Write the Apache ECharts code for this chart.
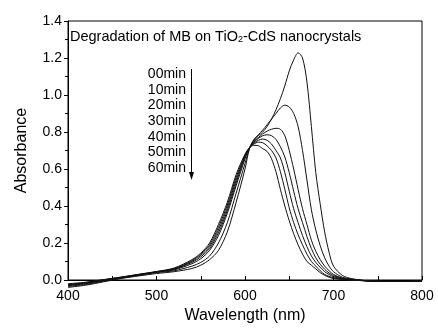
<!DOCTYPE html>
<html><head><meta charset="utf-8">
<script src="https://cdn.jsdelivr.net/npm/echarts@6/dist/echarts.min.js"></script>
<style>html,body{margin:0;padding:0;background:#fff}#c{width:438px;height:329px}</style>
</head><body><div id="c"></div>
<script>
const wavelengths = [400,420,440,460,480,500,520,540,550,560,570,580,590,600,605,610,615,620,625,630,635,640,645,650,655,660,665,670,675,680,685,690,695,700,710,720,740,760,780,800];
const seriesNames = ["00min","10min","20min","30min","40min","50min","60min"];
const a00 = [-0.04,-0.028,-0.01,0.008,0.022,0.035,0.045,0.062,0.08,0.11,0.16,0.26,0.42,0.60,0.71,0.76,0.78,0.80,0.83,0.87,0.92,0.98,1.05,1.13,1.19,1.228,1.20,1.07,0.83,0.58,0.41,0.26,0.15,0.075,0.025,0.008,-0.005,-0.008,-0.008,-0.006];
const a10 = [-0.035,-0.024,-0.007,0.01,0.025,0.04,0.05,0.075,0.095,0.13,0.20,0.31,0.47,0.63,0.71,0.755,0.785,0.81,0.84,0.87,0.90,0.93,0.945,0.935,0.90,0.83,0.70,0.54,0.38,0.27,0.185,0.12,0.075,0.045,0.015,0.005,-0.005,-0.008,-0.008,-0.006];
const a20 = [-0.03,-0.02,-0.004,0.012,0.027,0.042,0.055,0.088,0.115,0.16,0.24,0.36,0.51,0.655,0.715,0.75,0.77,0.79,0.805,0.815,0.82,0.815,0.78,0.70,0.60,0.49,0.385,0.30,0.215,0.155,0.11,0.075,0.05,0.03,0.01,0.003,-0.005,-0.008,-0.008,-0.006];
const a30 = [-0.03,-0.018,-0.002,0.013,0.028,0.043,0.058,0.095,0.125,0.17,0.255,0.375,0.525,0.665,0.715,0.745,0.765,0.78,0.785,0.78,0.76,0.72,0.665,0.58,0.48,0.385,0.31,0.235,0.17,0.12,0.085,0.058,0.038,0.024,0.008,0.002,-0.005,-0.008,-0.008,-0.006];
const a40 = [-0.025,-0.016,0.0,0.014,0.029,0.044,0.06,0.10,0.133,0.18,0.27,0.39,0.54,0.67,0.715,0.74,0.755,0.762,0.755,0.735,0.70,0.66,0.58,0.48,0.385,0.31,0.24,0.18,0.13,0.095,0.068,0.045,0.03,0.018,0.006,0.0,-0.005,-0.008,-0.008,-0.006];
const a50 = [-0.025,-0.014,0.001,0.015,0.03,0.045,0.062,0.105,0.14,0.19,0.285,0.405,0.555,0.675,0.715,0.735,0.745,0.742,0.725,0.70,0.66,0.585,0.49,0.39,0.31,0.245,0.19,0.14,0.10,0.075,0.05,0.03,0.02,0.012,0.004,0.0,-0.005,-0.008,-0.008,-0.006];
const a60 = [-0.02,-0.012,0.002,0.016,0.031,0.046,0.065,0.11,0.145,0.20,0.30,0.42,0.57,0.68,0.715,0.728,0.726,0.71,0.695,0.655,0.585,0.49,0.40,0.32,0.25,0.19,0.14,0.10,0.08,0.06,0.04,0.025,0.015,0.008,0.003,0.0,-0.005,-0.008,-0.008,-0.006];
const allSeries = [a00,a10,a20,a30,a40,a50,a60];
const xTicks = [400,500,600,700,800];
const yTicks = [0.0,0.2,0.4,0.6,0.8,1.0,1.2,1.4];

const FONT = 'Liberation Sans, Arial, sans-serif';
const chart = echarts.init(document.getElementById('c'), null, {renderer:'canvas'});
const legendTexts = seriesNames.map((n,i)=>({
  type:'text', right: 438-186, top: 67 + i*15.7,
  style:{text:n, font:'14px '+FONT, fill:'#000', textAlign:'right'}
}));
chart.setOption({
  animation:false,
  backgroundColor:'#fff',
  grid:{left:68,right:16,top:21,bottom:49,show:true,borderColor:'#000',borderWidth:1,backgroundColor:'transparent'},
  xAxis:{type:'value',min:xTicks[0],max:xTicks[xTicks.length-1],interval:100,
    name:'Wavelength (nm)',nameLocation:'middle',nameGap:26,
    nameTextStyle:{fontFamily:FONT,fontSize:16,color:'#000'},
    axisLine:{show:true,lineStyle:{color:'#000',width:1}},
    axisTick:{show:true,inside:true,length:4,lineStyle:{color:'#000'}},
    minorTick:{show:true,splitNumber:2,length:4,lineStyle:{color:'#000'}},
    splitLine:{show:false},
    axisLabel:{fontFamily:FONT,fontSize:14,color:'#000',margin:9}},
  yAxis:{type:'value',min:yTicks[0],max:yTicks[yTicks.length-1],interval:0.2,
    name:'Absorbance',nameLocation:'middle',nameGap:38,
    nameTextStyle:{fontFamily:FONT,fontSize:16,color:'#000'},
    axisLine:{show:true,lineStyle:{color:'#000',width:1}},
    axisTick:{show:true,inside:false,length:4,lineStyle:{color:'#000'}},
    minorTick:{show:true,splitNumber:2,length:3,lineStyle:{color:'#000'}},
    splitLine:{show:false},
    axisLabel:{fontFamily:FONT,fontSize:14,color:'#000',margin:6,formatter:v=>v.toFixed(1)}},
  series: allSeries.map((arr,i)=>({
    name:seriesNames[i],type:'line',smooth:0.3,symbol:'none',clip:false,
    lineStyle:{color:'#111',width:1},
    data: wavelengths.map((w,j)=>[w,arr[j]])
  })),
  graphic:[
    {type:'text',left:70,top:26,style:{
      rich:{n:{font:'14.5px '+FONT,fill:'#000'},s:{font:'9px '+FONT,fill:'#000',verticalAlign:'bottom',lineHeight:9,padding:[9,0,0,0]}},
      text:'{n|Degradation of MB on TiO}{s|2}{n|-CdS nanocrystals}'}},
    ...legendTexts,
    {type:'line',shape:{x1:191.5,y1:69,x2:191.5,y2:176},style:{stroke:'#000',lineWidth:1}},
    {type:'polygon',shape:{points:[[189,172],[194,172],[191.5,180]]},style:{fill:'#000'}}
  ]
});
</script></body></html>
